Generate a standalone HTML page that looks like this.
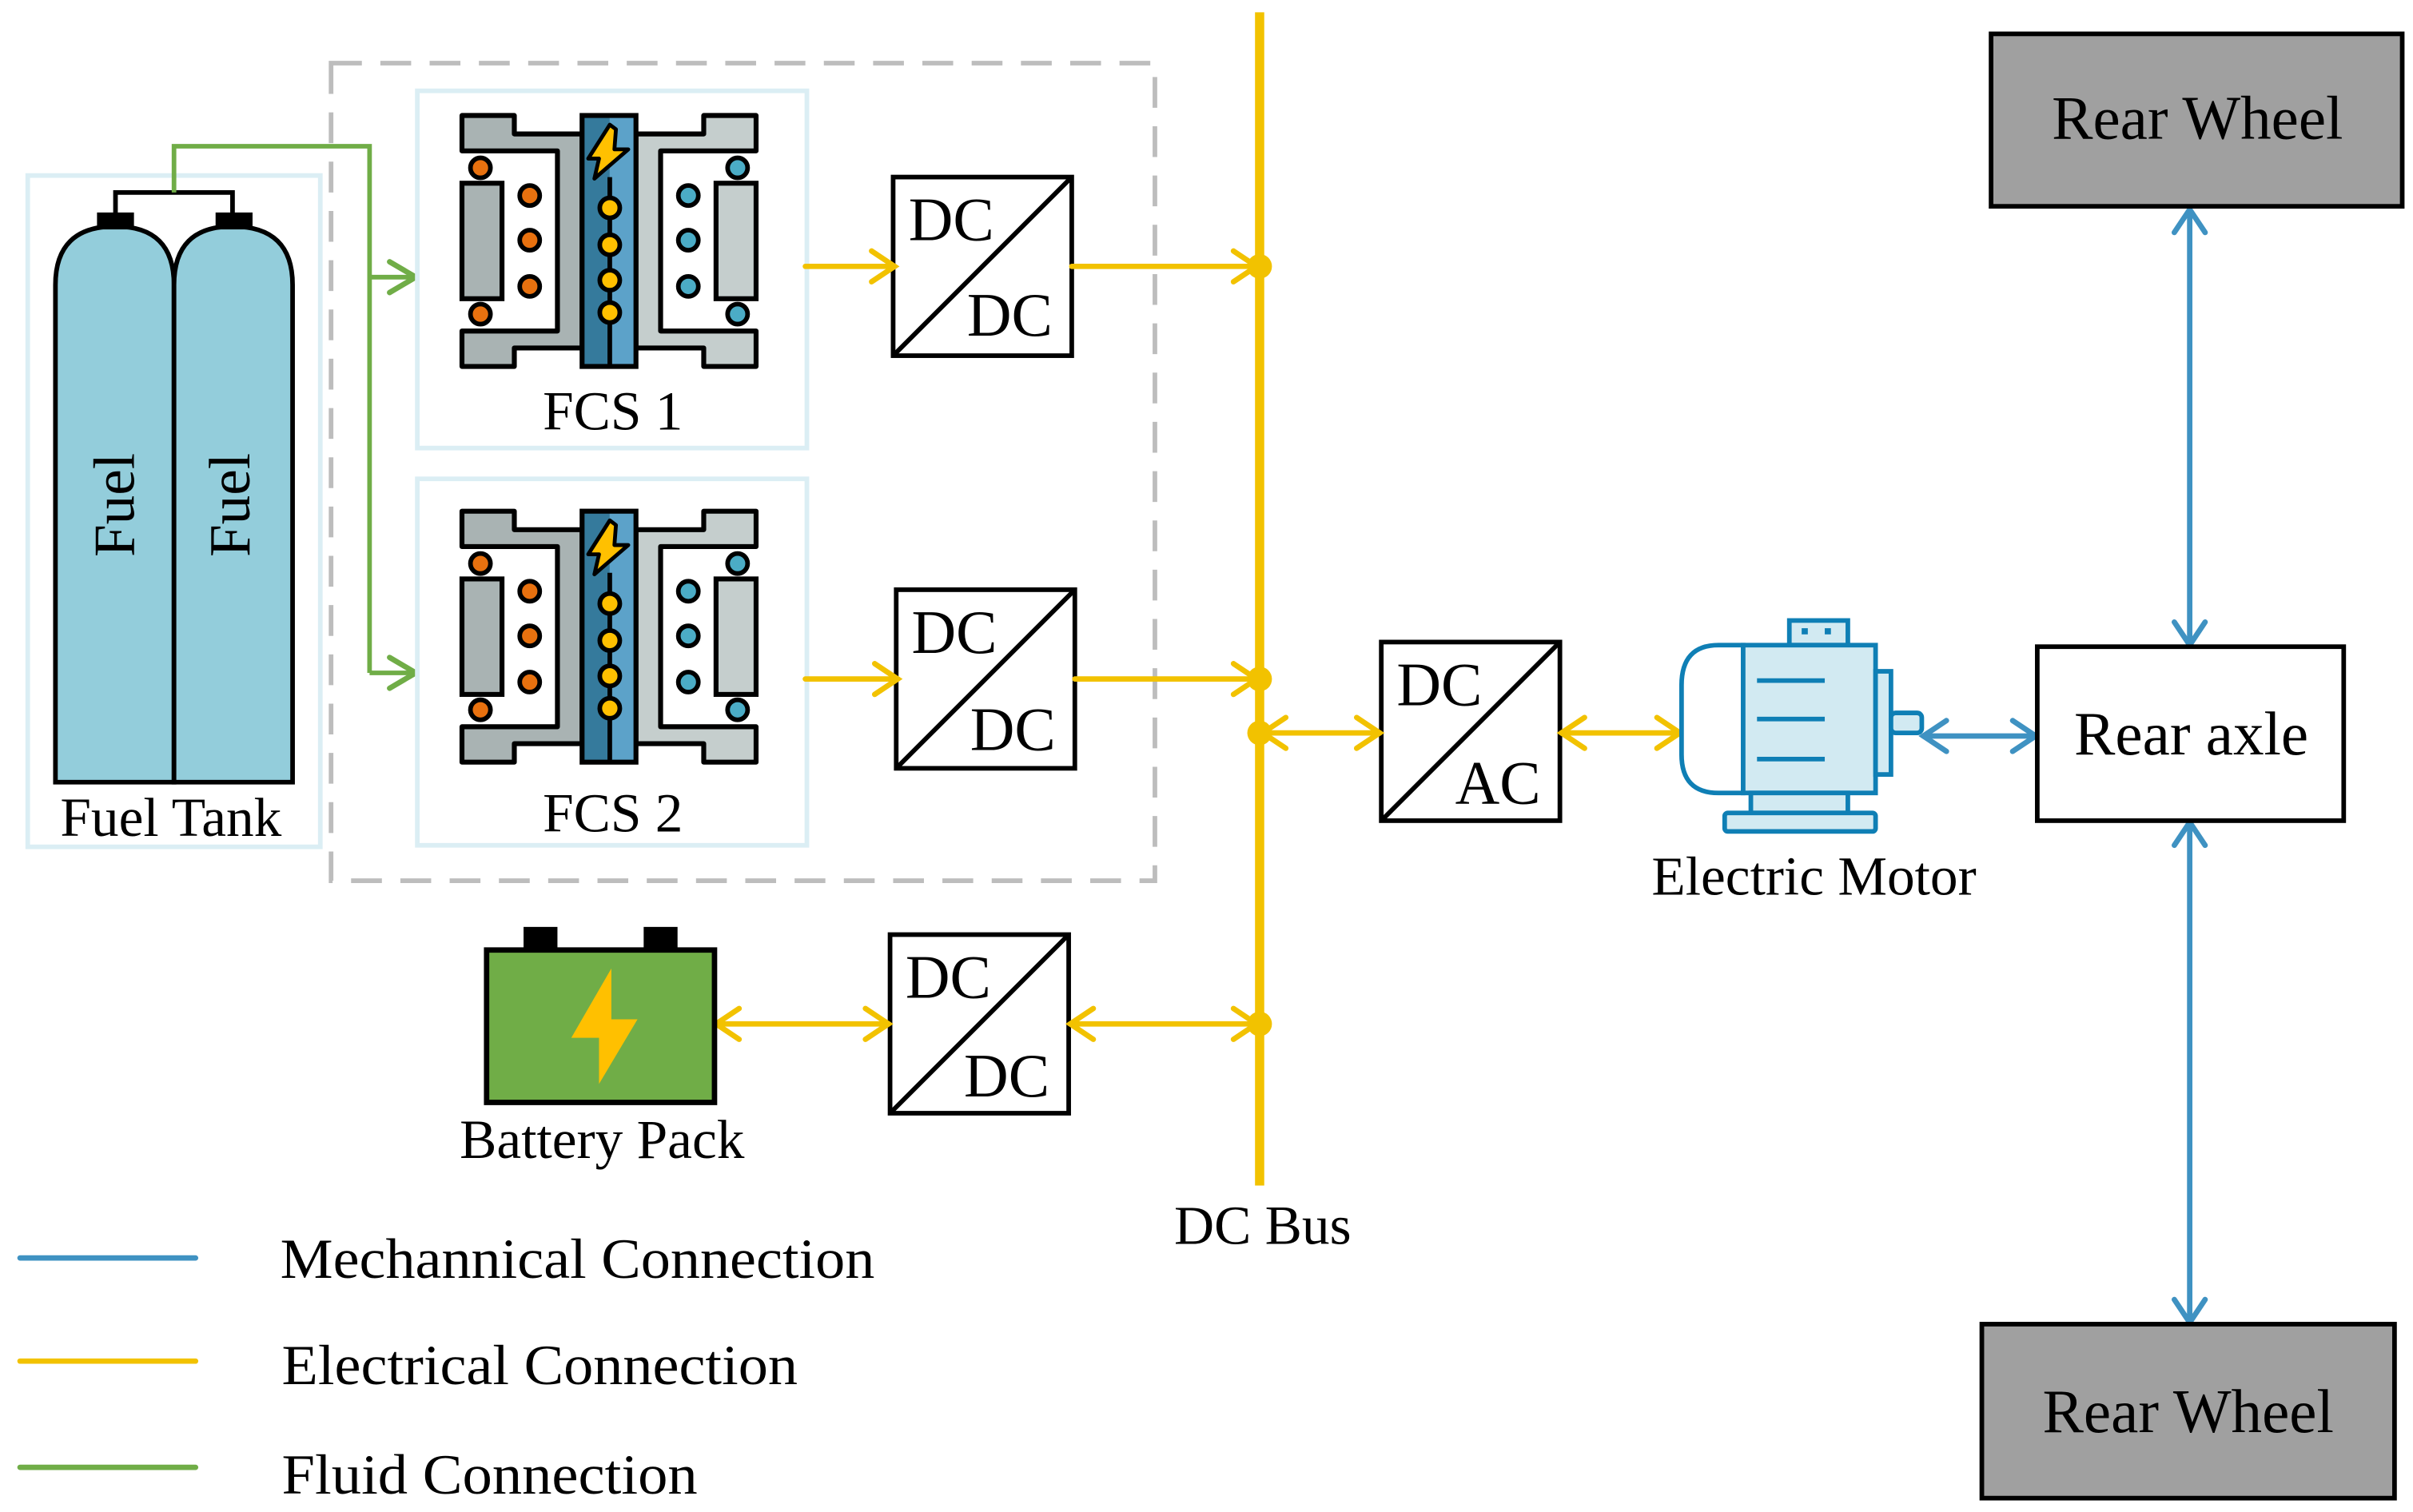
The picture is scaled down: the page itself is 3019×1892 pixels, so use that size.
<!DOCTYPE html>
<html><head><meta charset="utf-8"><style>html,body{margin:0;padding:0;background:#fff}svg{display:block}text{font-family:"Liberation Serif",serif;fill:#000}</style></head>
<body>
<svg width="3019" height="1892" viewBox="0 0 1567 982" preserveAspectRatio="none" xmlns="http://www.w3.org/2000/svg">
<defs>
<g id="half">
  <polygon points="0,0 34,0 34,12 78,12 78,151 34,151 34,163 0,163 0,140 62,140 62,23 0,23" stroke="#000" stroke-width="3.2" stroke-linejoin="round"/>
  <rect x="0" y="44" width="26" height="75" stroke="#000" stroke-width="3.2"/>
</g>
<g id="fcs">
  <g fill="#a9b3b3"><use href="#half"/></g>
  <g fill="#c5cecd" transform="translate(191,0) scale(-1,1)"><use href="#half"/></g>
  <g fill="#e8710f" stroke="#000" stroke-width="3">
    <circle cx="12" cy="34" r="6.5"/><circle cx="12" cy="129" r="6.5"/>
    <circle cx="44" cy="52" r="6.5"/><circle cx="44" cy="81" r="6.5"/><circle cx="44" cy="111" r="6.5"/>
  </g>
  <g fill="#4bacc6" stroke="#000" stroke-width="3">
    <circle cx="179" cy="34" r="6.5"/><circle cx="179" cy="129" r="6.5"/>
    <circle cx="147" cy="52" r="6.5"/><circle cx="147" cy="81" r="6.5"/><circle cx="147" cy="111" r="6.5"/>
  </g>
  <rect x="78" y="0" width="18" height="163" fill="#357a9c"/>
  <rect x="96" y="0" width="17" height="163" fill="#5ca2c9"/>
  <rect x="78" y="0" width="35" height="163" fill="none" stroke="#000" stroke-width="3.2"/>
  <line x1="96" y1="40" x2="96" y2="163" stroke="#000" stroke-width="3"/>
  <polygon points="96,6 82,28 89,28 86,41 108,22 99,22 100,9" fill="#ffc000" stroke="#000" stroke-width="2.5" stroke-linejoin="round"/>
  <g fill="#ffc000" stroke="#000" stroke-width="3">
    <circle cx="96" cy="60" r="6.5"/><circle cx="96" cy="84" r="6.5"/><circle cx="96" cy="107" r="6.5"/><circle cx="96" cy="128" r="6.5"/>
  </g>
</g>
<g id="conv">
  <rect x="0" y="0" width="116" height="116" fill="#fff" stroke="#000" stroke-width="3"/>
  <line x1="116" y1="0" x2="0" y2="116" stroke="#000" stroke-width="3"/>
</g>
</defs>

<!-- dashed group -->
<rect x="215" y="41" width="535" height="531" fill="none" stroke="#bdbdbd" stroke-width="3" stroke-dasharray="20,12"/>

<!-- fuel tank -->
<rect x="18" y="114" width="190" height="436" fill="none" stroke="#dbeef4" stroke-width="3"/>
<path d="M75,150 V125 H151 V150" fill="none" stroke="#000" stroke-width="3"/>
<path d="M36,508 V185 Q36,147 75,147 Q113,147 113,185 V508 Z" fill="#93cddb" stroke="#000" stroke-width="3"/>
<path d="M113,508 V185 Q113,147 151,147 Q190,147 190,185 V508 Q190,508 113,508 Z" fill="#93cddb" stroke="#000" stroke-width="3"/>
<path d="M36,470 V508 H113" fill="none"/>
<rect x="63" y="138" width="24" height="11" fill="#000"/>
<rect x="140" y="138" width="24" height="11" fill="#000"/>
<text transform="translate(87,328) rotate(-90)" font-size="38" text-anchor="middle">Fuel</text>
<text transform="translate(162,328) rotate(-90)" font-size="38" text-anchor="middle">Fuel</text>
<text x="111" y="543" font-size="36" text-anchor="middle">Fuel Tank</text>

<!-- green fluid -->
<path d="M113,125 V95 H240 V437" fill="none" stroke="#70ad47" stroke-width="3"/>
<line x1="240" y1="180" x2="268" y2="180" stroke="#70ad47" stroke-width="3"/>
<line x1="240" y1="437" x2="268" y2="437" stroke="#70ad47" stroke-width="3"/>
<path d="M253,170 L270,180 L253,190 M253,427 L270,437 L253,447" fill="none" stroke="#70ad47" stroke-width="3.5" stroke-linecap="round"/>

<!-- FCS boxes -->
<rect x="271" y="59" width="253" height="232" fill="#fff" stroke="#dbeef4" stroke-width="3"/>
<rect x="271" y="311" width="253" height="238" fill="#fff" stroke="#dbeef4" stroke-width="3"/>
<use href="#fcs" x="300" y="75"/>
<use href="#fcs" x="300" y="332"/>
<text x="398" y="279" font-size="36" text-anchor="middle">FCS 1</text>
<text x="398" y="540" font-size="36" text-anchor="middle">FCS 2</text>

<!-- converters -->
<use href="#conv" x="580" y="115"/>
<use href="#conv" x="582" y="383"/>
<use href="#conv" x="578" y="607"/>
<use href="#conv" x="897" y="417"/>
<g font-size="40">
<text x="590" y="156">DC</text><text x="628" y="218">DC</text>
<text x="592" y="424">DC</text><text x="630" y="487">DC</text>
<text x="588" y="648">DC</text><text x="626" y="712">DC</text>
<text x="907" y="458">DC</text><text x="945" y="522">AC</text>
</g>

<!-- DC bus -->
<line x1="818" y1="8" x2="818" y2="770" stroke="#f2c200" stroke-width="6"/>
<g fill="#f2c200"><circle cx="818" cy="173" r="8"/><circle cx="818" cy="441" r="8"/><circle cx="818" cy="476" r="8"/><circle cx="818" cy="665" r="8"/></g>
<text x="820" y="808" font-size="36" text-anchor="middle">DC Bus</text>

<!-- yellow connectors -->
<g stroke="#f2c200" stroke-width="3.5" fill="none" stroke-linecap="round">
  <line x1="523" y1="173" x2="581" y2="173"/><path d="M566,163 L581,173 L566,183"/>
  <line x1="696" y1="173" x2="816" y2="173"/><path d="M801,163 L816,173 L801,183"/>
  <line x1="523" y1="441" x2="583" y2="441"/><path d="M568,431 L583,441 L568,451"/>
  <line x1="698" y1="441" x2="816" y2="441"/><path d="M801,431 L816,441 L801,451"/>
  <line x1="465" y1="665" x2="577" y2="665"/><path d="M480,655 L465,665 L480,675 M562,655 L577,665 L562,675"/>
  <line x1="695" y1="665" x2="816" y2="665"/><path d="M710,655 L695,665 L710,675 M801,655 L816,665 L801,675"/>
  <line x1="820" y1="476" x2="896" y2="476"/><path d="M835,466 L820,476 L835,486 M881,466 L896,476 L881,486"/>
  <line x1="1014" y1="476" x2="1091" y2="476"/><path d="M1029,466 L1014,476 L1029,486 M1076,466 L1091,476 L1076,486"/>
</g>

<!-- battery -->
<rect x="340" y="602" width="22" height="16" fill="#000"/>
<rect x="418" y="602" width="22" height="16" fill="#000"/>
<rect x="316" y="617" width="148" height="99" fill="#70ad47" stroke="#000" stroke-width="3.5"/>
<polygon points="397,629 371,674 389,674 389,704 414,662 397,662" fill="#ffc000"/>
<text x="391" y="752" font-size="36" text-anchor="middle">Battery Pack</text>

<!-- motor -->
<g stroke="#0f7fb5" stroke-width="3" fill="#d2eaf2">
  <rect x="1162" y="403" width="38" height="16"/>
  <path d="M1132,419 H1116 Q1092,419 1092,445 V490 Q1092,515 1116,515 H1132 Z" fill="#fff"/>
  <rect x="1132" y="419" width="86" height="96"/>
  <rect x="1218" y="436" width="10" height="67"/>
  <rect x="1228" y="463" width="20" height="13" rx="3"/>
  <rect x="1137" y="515" width="63" height="13"/>
  <rect x="1120" y="528" width="98" height="12" rx="2"/>
</g>
<g stroke="#0f7fb5" stroke-width="3"><line x1="1141" y1="442" x2="1185" y2="442"/><line x1="1141" y1="467" x2="1185" y2="467"/><line x1="1141" y1="493" x2="1185" y2="493"/></g>
<rect x="1170" y="408" width="4" height="4" fill="#0f7fb5"/><rect x="1185" y="408" width="4" height="4" fill="#0f7fb5"/>
<text x="1178" y="581" font-size="36" text-anchor="middle">Electric Motor</text>

<!-- mechanical -->
<g stroke="#3f92c2" stroke-width="3.5" fill="none" stroke-linecap="round">
  <line x1="1249" y1="478" x2="1322" y2="478"/><path d="M1264,468 L1249,478 L1264,488 M1307,468 L1322,478 L1307,488"/>
  <line x1="1422" y1="136" x2="1422" y2="419"/><path d="M1412,151 L1422,136 L1432,151 M1412,404 L1422,419 L1432,404"/>
  <line x1="1422" y1="534" x2="1422" y2="859"/><path d="M1412,549 L1422,534 L1432,549 M1412,844 L1422,859 L1432,844"/>
</g>
<rect x="1323" y="420" width="199" height="113" fill="#fff" stroke="#000" stroke-width="3"/>
<text x="1423" y="490" font-size="40" text-anchor="middle">Rear axle</text>
<rect x="1293" y="22" width="267" height="112" fill="#a0a0a0" stroke="#000" stroke-width="3"/>
<text x="1427" y="90" font-size="40" text-anchor="middle">Rear Wheel</text>
<rect x="1287" y="860" width="268" height="113" fill="#a0a0a0" stroke="#000" stroke-width="3"/>
<text x="1421" y="930" font-size="40" text-anchor="middle">Rear Wheel</text>

<!-- legend -->
<g stroke-width="3.5" stroke-linecap="round">
<line x1="13" y1="817" x2="127" y2="817" stroke="#3f92c2"/>
<line x1="13" y1="884" x2="127" y2="884" stroke="#f2c200"/>
<line x1="13" y1="953" x2="127" y2="953" stroke="#70ad47"/>
</g>
<g font-size="37">
<text x="182" y="830" textLength="386" lengthAdjust="spacingAndGlyphs">Mechannical Connection</text>
<text x="183" y="899" textLength="335" lengthAdjust="spacingAndGlyphs">Electrical Connection</text>
<text x="183" y="970" textLength="270" lengthAdjust="spacingAndGlyphs">Fluid Connection</text>
</g>
</svg>
</body></html>
